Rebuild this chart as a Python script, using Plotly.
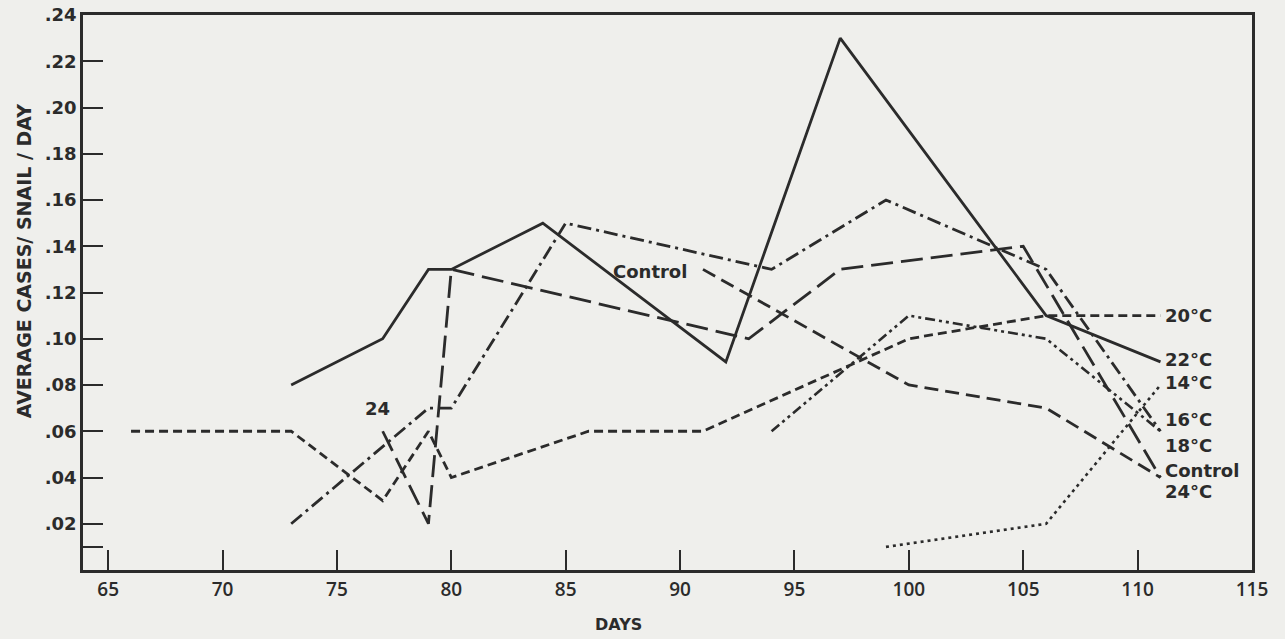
import plotly.graph_objects as go

# ---- data ----
days_14 = [99, 106, 111]
vals_14 = [0.01, 0.02, 0.08]

days_16 = [94, 100, 106, 111]
vals_16 = [0.06, 0.11, 0.10, 0.06]

days_18 = [73, 79, 80, 85, 94, 99, 106, 111]
vals_18 = [0.02, 0.07, 0.07, 0.15, 0.13, 0.16, 0.13, 0.06]

days_20 = [66, 73, 77, 79, 80, 86, 91, 100, 106, 111]
vals_20 = [0.06, 0.06, 0.03, 0.06, 0.04, 0.06, 0.06, 0.10, 0.11, 0.11]

days_22 = [73, 77, 79, 80, 84, 92, 97, 106, 111]
vals_22 = [0.08, 0.10, 0.13, 0.13, 0.15, 0.09, 0.23, 0.11, 0.09]

days_24 = [77, 79, 80, 93, 97, 105, 111]
vals_24 = [0.06, 0.02, 0.13, 0.10, 0.13, 0.14, 0.04]

days_ctrl = [91, 100, 106, 111]
vals_ctrl = [0.13, 0.08, 0.07, 0.04]

x_ticks = [65, 70, 75, 80, 85, 90, 95, 100, 105, 110, 115]
y_tickvals = [0.01, 0.02, 0.04, 0.06, 0.08, 0.10, 0.12, 0.14, 0.16, 0.18, 0.20, 0.22, 0.24]
y_ticktext = ["", ".02", ".04", ".06", ".08", ".10", ".12", ".14", ".16", ".18", ".20", ".22", ".24"]

end_labels = ["20°C", "22°C", "14°C", "16°C", "18°C", "Control", "24°C"]
end_label_y = [0.11, 0.091, 0.081, 0.065, 0.054, 0.043, 0.034]

INK = "#2b2b2b"
BG = "#efefec"
FONT = "DejaVu Sans"

series = [
    ("14°C", days_14, vals_14, "3px,4px", 2.6),
    ("16°C", days_16, vals_16, "10px,4px,3px,4px,3px,4px", 2.6),
    ("18°C", days_18, vals_18, "14px,5px,3px,5px", 2.8),
    ("20°C", days_20, vals_20, "9px,5px", 2.8),
    ("22°C", days_22, vals_22, "solid", 2.8),
    ("24°C", days_24, vals_24, "22px,8px", 2.8),
    ("Control", days_ctrl, vals_ctrl, "14px,7px", 2.8),
]

fig = go.Figure()
for name, xs, ys, dash, w in series:
    fig.add_trace(go.Scatter(
        x=xs, y=ys, mode="lines", name=name,
        line=dict(color=INK, width=w, dash=dash),
        showlegend=False, hoverinfo="x+y+name",
    ))

lab_font = dict(family=FONT, size=18, color=INK, weight="bold")
for txt, yv in zip(end_labels, end_label_y):
    fig.add_annotation(x=111.1, y=yv, text=txt, showarrow=False,
                       xanchor="left", yanchor="middle", font=lab_font)

fig.add_annotation(x=90.4, y=0.129, text="Control", showarrow=False,
                   xanchor="right", yanchor="middle", font=lab_font)
fig.add_annotation(x=77.4, y=0.0645, text="24", showarrow=False,
                   xanchor="right", yanchor="bottom", font=lab_font)

# axis titles as annotations (placed like the reference)
fig.add_annotation(xref="paper", yref="paper", x=-0.051, y=0.557,
                   text="AVERAGE CASES/ SNAIL / DAY", textangle=-90,
                   showarrow=False, xanchor="center", yanchor="middle",
                   font=dict(family=FONT, size=19, color=INK, weight="bold"))
fig.add_annotation(xref="paper", yref="paper", x=0.458, y=-0.099,
                   text="DAYS", showarrow=False, xanchor="center", yanchor="middle",
                   font=dict(family=FONT, size=16, color=INK, weight="bold"))

fig.update_xaxes(
    range=[63.9, 115], tickvals=x_ticks, ticks="inside", ticklen=20,
    tickwidth=1.6, tickcolor=INK, showline=True, linecolor=INK, linewidth=2.5,
    mirror=True, showgrid=False, zeroline=False, automargin=False,
    ticklabeloverflow="allow",
    tickfont=dict(family="Open Sans", size=19, color=INK, weight=600),
)
fig.update_yaxes(
    range=[0, 0.24], tickvals=y_tickvals, ticktext=y_ticktext, ticks="inside",
    ticklen=20, tickwidth=2.2, tickcolor=INK, showline=True, linecolor=INK,
    linewidth=2.5, mirror=True, showgrid=False, zeroline=False, automargin=False,
    ticklabeloverflow="allow",
    tickfont=dict(family=FONT, size=18, color=INK, weight="bold"),
)

fig.update_layout(
    width=1285, height=639,
    margin=dict(l=83, r=33, t=15, b=69),
    paper_bgcolor=BG, plot_bgcolor=BG,
)

# remove the default page margin so the figure fills the window exactly
fig.write_html("out.html",
               config={"displayModeBar": False},
               post_script="document.body.style.margin='0';document.body.style.background='%s';" % BG)
